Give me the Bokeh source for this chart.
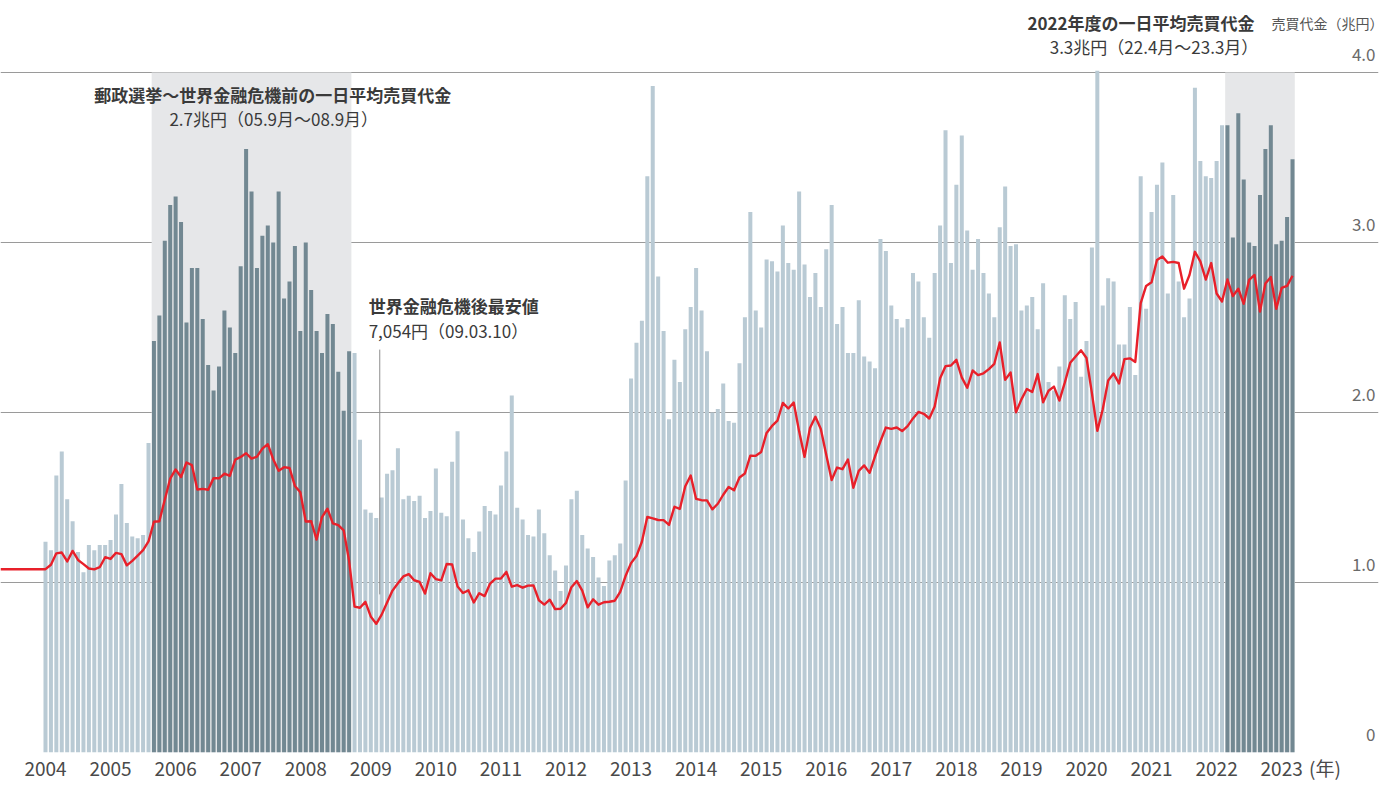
from bokeh.plotting import figure
from bokeh.models import Range1d, FixedTicker, Label, ColumnDataSource
from bokeh.embed import file_html
from bokeh.resources import INLINE
from bokeh.core.properties import value

# ---------------- data ----------------
start_year = 2004                      # first bar = 2004-01, monthly
# 東証 一日平均売買代金 (兆円), monthly 2004-01 .. 2023-03
trading_value_2004 = [1.24, 1.19, 1.63, 1.77, 1.49, 1.36, 1.18, 1.06, 1.22, 1.19, 1.22, 1.22]
trading_value_2005 = [1.25, 1.40, 1.58, 1.35, 1.27, 1.26, 1.28, 1.82, 2.42, 2.57, 3.01, 3.22]
trading_value_2006 = [3.27, 3.12, 2.53, 2.85, 2.85, 2.55, 2.28, 2.13, 2.27, 2.60, 2.50, 2.35]
trading_value_2007 = [2.86, 3.55, 3.30, 2.85, 3.04, 3.10, 3.00, 3.30, 2.67, 2.77, 2.98, 2.48]
trading_value_2008 = [3.00, 2.72, 2.48, 2.35, 2.58, 2.52, 2.24, 2.01, 2.36, 2.35, 1.84, 1.43]
trading_value_2009 = [1.41, 1.38, 1.50, 1.64, 1.66, 1.79, 1.49, 1.51, 1.48, 1.51, 1.38, 1.42]
trading_value_2010 = [1.67, 1.41, 1.39, 1.71, 1.89, 1.37, 1.26, 1.18, 1.30, 1.45, 1.42, 1.40]
trading_value_2011 = [1.57, 1.77, 2.10, 1.44, 1.37, 1.28, 1.27, 1.43, 1.29, 1.16, 1.07, 0.95]
trading_value_2012 = [1.10, 1.49, 1.54, 1.28, 1.20, 1.15, 1.03, 0.98, 1.13, 1.16, 1.23, 1.60]
trading_value_2013 = [2.20, 2.41, 2.54, 3.39, 3.92, 2.80, 2.48, 1.96, 2.31, 2.18, 2.49, 2.62]
trading_value_2014 = [2.85, 2.60, 2.36, 2.00, 2.02, 2.17, 1.95, 1.94, 2.29, 2.56, 3.18, 2.60]
trading_value_2015 = [2.50, 2.90, 2.89, 2.83, 3.10, 2.88, 2.84, 3.30, 2.87, 2.68, 2.82, 2.62]
trading_value_2016 = [2.96, 3.22, 2.52, 2.62, 2.35, 2.35, 2.66, 2.33, 2.30, 2.26, 3.02, 2.95]
trading_value_2017 = [2.63, 2.55, 2.50, 2.55, 2.82, 2.77, 2.56, 2.44, 2.82, 3.10, 3.66, 2.88]
trading_value_2018 = [3.34, 3.63, 3.07, 2.84, 3.02, 2.82, 2.70, 2.56, 3.09, 3.33, 2.98, 2.99]
trading_value_2019 = [2.60, 2.63, 2.68, 2.49, 2.76, 2.18, 2.13, 2.27, 2.69, 2.55, 2.65, 2.21]
trading_value_2020 = [2.42, 2.97, 4.01, 2.63, 2.79, 2.77, 2.40, 2.40, 2.62, 2.22, 3.39, 2.61]
trading_value_2021 = [3.18, 3.34, 3.47, 2.70, 3.28, 2.77, 2.56, 2.67, 3.91, 3.48, 3.39, 3.38]
trading_value_2022 = [3.48, 3.69, 3.69, 3.03, 3.76, 3.37, 3.00, 2.98, 3.28, 3.55, 3.69, 2.99]
trading_value_2023 = [3.01, 3.15, 3.49]

# 日経平均 月末終値 (円)
nikkei_2004 = [10783, 11041, 11715, 11761, 11236, 11858, 11325, 11081, 10823, 10771, 10899, 11488]
nikkei_2005 = [11387, 11740, 11668, 11008, 11276, 11584, 11899, 12413, 13574, 13606, 14872, 16111]
nikkei_2006 = [16650, 16205, 17060, 16906, 15467, 15505, 15457, 16140, 16128, 16399, 16274, 17226]
nikkei_2007 = [17383, 17604, 17288, 17400, 17876, 18138, 17249, 16569, 16786, 16737, 15681, 15308]
nikkei_2008 = [13592, 13603, 12526, 13850, 14339, 13481, 13377, 13073, 11260, 8577, 8512, 8860]
nikkei_2009 = [7994, 7568, 8110, 8828, 9523, 9958, 10357, 10493, 10133, 10035, 9346, 10546]
nikkei_2010 = [10198, 10126, 11090, 11057, 9769, 9383, 9537, 8824, 9369, 9202, 9937, 10229]
nikkei_2011 = [10238, 10624, 9755, 9850, 9694, 9816, 9833, 8955, 8700, 8988, 8435, 8455]
nikkei_2012 = [8803, 9723, 10084, 9521, 8543, 9007, 8695, 8840, 8870, 8928, 9446, 10395]
nikkei_2013 = [11139, 11559, 12398, 13861, 13775, 13677, 13668, 13389, 14456, 14328, 15662, 16291]
nikkei_2014 = [14915, 14841, 14828, 14304, 14632, 15162, 15621, 15425, 16174, 16414, 17460, 17451]
nikkei_2015 = [17674, 18798, 19207, 19520, 20563, 20236, 20585, 18890, 17388, 19083, 19747, 19034]
nikkei_2016 = [17518, 16027, 16759, 16666, 17235, 15576, 16569, 16887, 16450, 17425, 18308, 19114]
nikkei_2017 = [19041, 19119, 18909, 19197, 19651, 20033, 19925, 19646, 20356, 22012, 22725, 22765]
nikkei_2018 = [23098, 22068, 21454, 22468, 22202, 22305, 22554, 22865, 24120, 21920, 22351, 20015]
nikkei_2019 = [20773, 21385, 21206, 22259, 20601, 21276, 21522, 20704, 21756, 22927, 23294, 23657]
nikkei_2020 = [23205, 21143, 18917, 20194, 21878, 22288, 21710, 23140, 23185, 22977, 26434, 27444]
nikkei_2021 = [27663, 28966, 29179, 28813, 28860, 28792, 27284, 28090, 29453, 28893, 27822, 28792]
nikkei_2022 = [27002, 26527, 27821, 26848, 27280, 26393, 27802, 28092, 25937, 27587, 27969, 26095]
nikkei_2023 = [27327, 27446, 28041]

# shaded (dark-bar) periods as drawn in the picture
highlight_periods = [("2005-09", "2008-09"), ("2022-03", "2023-03")]
year_labels = [str(y) for y in range(2004, 2024)]
value_ticks = [0, 1, 2, 3, 4]
value_tick_labels = ["0", "1.0", "2.0", "3.0", "4.0"]
low_point_month = "2009-03"

trading_value = sum([trading_value_2004, trading_value_2005, trading_value_2006, trading_value_2007,
                     trading_value_2008, trading_value_2009, trading_value_2010, trading_value_2011,
                     trading_value_2012, trading_value_2013, trading_value_2014, trading_value_2015,
                     trading_value_2016, trading_value_2017, trading_value_2018, trading_value_2019,
                     trading_value_2020, trading_value_2021, trading_value_2022, trading_value_2023], [])
nikkei = sum([nikkei_2004, nikkei_2005, nikkei_2006, nikkei_2007, nikkei_2008, nikkei_2009,
              nikkei_2010, nikkei_2011, nikkei_2012, nikkei_2013, nikkei_2014, nikkei_2015,
              nikkei_2016, nikkei_2017, nikkei_2018, nikkei_2019, nikkei_2020, nikkei_2021,
              nikkei_2022, nikkei_2023], [])


def month_index(s):
    y, m = s.split("-")
    return (int(y) - start_year) * 12 + int(m) - 1


n = len(trading_value)
months = list(range(n))

# ---------------- styling ----------------
FONT = "Noto Sans CJK JP"
LIGHT = "#b9cad4"
DARK = "#728892"
SHADE = "#e6e7e9"
RED = "#e8202a"
TXT = "#3a3a3a"

X_START, X_END = -8.30, 245.86
Y_END = 4.4235

p = figure(width=1382, height=787, output_backend="svg", toolbar_location=None,
           x_range=Range1d(X_START, X_END), y_range=Range1d(0, Y_END),
           y_axis_location=None, min_border_left=0, min_border_right=4,
           min_border_top=0, min_border_bottom=35)
p.outline_line_color = None
p.background_fill_color = "white"
p.xgrid.visible = False
p.ygrid.ticker = FixedTicker(ticks=value_ticks)
p.ygrid.grid_line_color = "#9a9a9a"
p.ygrid.grid_line_width = 1

# x axis (years)
year_ticks = [i * 12 for i in range(len(year_labels))]
unit_tick = year_ticks[-1] + 8
xa = p.xaxis[0]
xa.ticker = FixedTicker(ticks=year_ticks + [unit_tick])
overrides = {t: lab for t, lab in zip(year_ticks, year_labels)}
overrides[unit_tick] = "(年)"
xa.major_label_overrides = overrides
xa.axis_line_color = None
xa.major_tick_line_color = None
xa.minor_tick_line_color = None
xa.major_label_text_font = FONT
xa.major_label_text_font_size = "19px"
xa.major_label_text_color = "#4a4a4a"
xa.major_label_standoff = -5

# shaded periods
for a, b in highlight_periods:
    p.quad(left=month_index(a) - 0.42, right=month_index(b) + 0.42, bottom=0,
           top=value_ticks[-1], fill_color=SHADE, line_color=None)

# bars
hl = set()
for a, b in highlight_periods:
    hl.update(range(month_index(a), month_index(b) + 1))
colors = [DARK if i in hl else LIGHT for i in months]
src = ColumnDataSource(dict(x=months, top=trading_value, color=colors))
p.vbar(x="x", top="top", width=0.74, fill_color="color", line_color=None, source=src)

# Nikkei line (10,000円 = 1.0 on the value scale)
p.extra_y_ranges = {"nikkei": Range1d(0, Y_END * 10000)}
p.line(x=[X_START] + months, y=[nikkei[0]] + nikkei, y_range_name="nikkei",
       line_color=RED, line_width=2.4, line_join="round")

# pointer line for the post-crisis low
lx = month_index(low_point_month) - 0.35
p.segment(x0=[lx], y0=[0.93], x1=[lx], y1=[2.37], line_color="#8c8c8c", line_width=1)

# right-hand value labels, above the grid lines
p.text(x=[X_END] * len(value_ticks), y=value_ticks, text=value_tick_labels,
       text_align="right", text_baseline="alphabetic", x_offset=-3, y_offset=-18,
       text_font=value(FONT), text_font_size="17px", text_color="#6a6a6a")


def lab(x, y, text, bold=False, align="center", size="17px", color=TXT):
    p.add_layout(Label(x=x, y=y, text=text, text_align=align, text_baseline="middle",
                       text_font=FONT, text_font_size=size,
                       text_font_style="bold" if bold else "normal", text_color=color))


lab(41.9, 3.870, "郵政選挙〜世界金融危機前の一日平均売買代金", bold=True)
lab(42.1, 3.730, "2.7兆円（05.9月〜08.9月）")
lab(59.6, 2.630, "世界金融危機後最安値", bold=True, align="left")
lab(59.6, 2.482, "7,054円（09.03.10）", align="left")
lab(223.0, 4.294, "2022年度の一日平均売買代金", bold=True, align="right")
lab(223.7, 4.150, "3.3兆円（22.4月〜23.3月）", align="right")
lab(X_END + 0.9, 4.294, "売買代金（兆円）", align="right", size="14px", color="#555555")

open("out.html", "w").write(file_html(p, INLINE))
